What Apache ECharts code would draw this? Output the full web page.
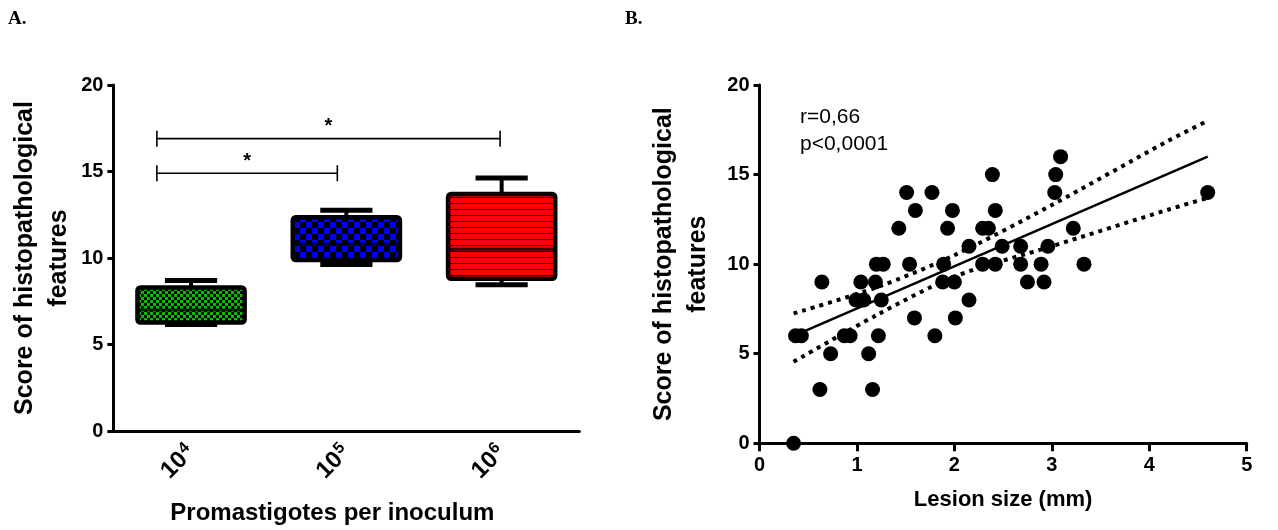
<!DOCTYPE html>
<html><head><meta charset="utf-8">
<script src="https://cdn.jsdelivr.net/npm/echarts@6/dist/echarts.min.js"></script>
<style>html,body{margin:0;padding:0;background:#fff}#c{width:1278px;height:530px}</style>
</head><body><div id="c"></div>
<script>
// ---------- Panel A data ----------
const groupNames = ['10^4', '10^5', '10^6'];
const groupExponents = ['4', '5', '6'];
const boxMin = [6.15, 9.62, 8.46];
const boxQ1 = [6.27, 9.88, 8.8];
const boxMedian = [7.0, 10.8, 10.5];
const boxQ3 = [8.3, 12.36, 13.7];
const boxMax = [8.7, 12.76, 14.62];
const bracketFrom = [0, 0];
const bracketTo = [1, 2];
const bracketLevel = [14.9, 16.9];
const bracketMark = ['*', '*'];

// ---------- Panel B data ----------
const lesionSize = [0.35, 0.37, 0.43, 0.64, 0.62, 0.73, 0.87, 0.93, 1.04, 0.99, 1.07, 1.12, 1.16, 1.19, 1.20, 1.27, 1.22, 1.25,
  1.43, 1.51, 1.60, 1.54, 1.59, 1.77, 1.80, 1.89, 1.88, 2.00, 1.93, 1.98, 2.01, 2.15, 2.15, 2.29, 2.29, 2.35, 2.39, 2.42, 2.42,
  2.49, 2.68, 2.68, 2.89, 2.75, 2.92, 2.96, 3.03, 3.04, 3.09, 3.22, 3.33, 4.60];
const histoScore = [0, 6, 6, 9, 3, 5, 6, 6, 9, 8, 8, 5, 3, 9, 10, 10, 6, 8,
  12, 14, 13, 10, 7, 14, 6, 10, 9, 9, 12, 13, 7, 8, 11, 10, 12, 12, 15, 13, 10,
  11, 11, 10, 10, 9, 9, 11, 14, 15, 16, 12, 10, 14];
const fitX = [0.35, 4.6];
const fitY = [6.0, 16.0];
const bandX = [0.35, 1.2, 2.0, 3.0, 4.2, 4.6];
const bandUpper = [7.25, 8.7, 10.5, 13.3, 16.9, 18.0];
const bandLower = [4.55, 7.15, 9.3, 11.0, 13.05, 13.7];
const statText = ['r=0,66', 'p<0,0001'];

// ---------- patterns ----------
function makePattern(w, h, draw) {
  const c = document.createElement('canvas');
  c.width = w; c.height = h;
  draw(c.getContext('2d'));
  return { image: c, repeat: 'repeat' };
}
const patterns = [
  makePattern(6, 6, g => { g.fillStyle = '#000'; g.fillRect(0,0,6,6); g.fillStyle = '#00c000'; g.fillRect(0,0,3,3); g.fillRect(3,3,3,3); }),
  makePattern(12, 12, g => { g.fillStyle = '#000'; g.fillRect(0,0,12,12); g.fillStyle = '#0000ff'; g.fillRect(0,0,6,6); g.fillRect(6,6,6,6); }),
  makePattern(4, 6, g => { g.fillStyle = '#ff0000'; g.fillRect(0,0,4,6); g.fillStyle = '#000'; g.fillRect(0,5,4,1); })
];

const FONT = 'Liberation Sans';
const boxData = groupNames.map((_, i) => [i, boxMin[i], boxQ1[i], boxMedian[i], boxQ3[i], boxMax[i]]);
const bracketData = bracketFrom.map((f, i) => [f, bracketTo[i], bracketLevel[i]]);

const chart = echarts.init(document.getElementById('c'), null, { renderer: 'canvas' });

const axisTextA = { color: '#000', fontFamily: FONT, fontWeight: 'bold', fontSize: 20 };
const yName = { ...axisTextA, fontSize: 25, lineHeight: 34 };

chart.setOption({
  animation: false,
  backgroundColor: '#fff',
  grid: [
    { left: 113.4, right: 698.7, top: 85, bottom: 98.3 },
    { left: 759.5, right: 31.3, top: 85, bottom: 86.7 }
  ],
  xAxis: [
    {
      type: 'category', gridIndex: 0, data: groupNames, boundaryGap: true,
      axisLine: { lineStyle: { color: '#000', width: 3 } },
      axisTick: { alignWithLabel: true, length: 8, lineStyle: { width: 3, color: '#000' } },
      axisLabel: {
        rotate: 45, margin: 18, ...axisTextA, fontSize: 24,
        formatter: (v, idx) => '10{s|' + groupExponents[idx] + '}',
        rich: { s: { fontSize: 16, fontWeight: 'bold', fontFamily: FONT, color: '#000', verticalAlign: 'top', padding: [0, 0, 11, 1] } }
      },
      name: 'Promastigotes per inoculum', nameLocation: 'middle', nameGap: 70,
      nameTextStyle: { ...axisTextA, fontSize: 24, padding: [0, 28, 0, 0] }
    },
    {
      type: 'value', gridIndex: 1, min: 0, max: 5, interval: 1,
      axisLine: { onZero: false, lineStyle: { color: '#000', width: 3 } },
      axisTick: { length: 8, lineStyle: { width: 3, color: '#000' } },
      splitLine: { show: false },
      axisLabel: { ...axisTextA, margin: 12 },
      name: 'Lesion size (mm)', nameLocation: 'middle', nameGap: 46,
      nameTextStyle: { ...axisTextA, fontSize: 22 }
    }
  ],
  yAxis: [
    {
      type: 'value', gridIndex: 0, min: 0, max: 20, interval: 5,
      axisLine: { show: true, lineStyle: { color: '#000', width: 3 } },
      axisTick: { show: true, length: 6, lineStyle: { width: 3, color: '#000' } },
      splitLine: { show: false },
      axisLabel: { ...axisTextA, margin: 10 },
      name: 'Score of histopathological\nfeatures', nameLocation: 'middle', nameGap: 37, nameRotate: 90,
      nameTextStyle: yName
    },
    {
      type: 'value', gridIndex: 1, min: 0, max: 20, interval: 5,
      axisLine: { show: true, onZero: false, lineStyle: { color: '#000', width: 3 } },
      axisTick: { show: true, length: 6, lineStyle: { width: 3, color: '#000' } },
      splitLine: { show: false },
      axisLabel: { ...axisTextA, margin: 10 },
      name: 'Score of histopathological\nfeatures', nameLocation: 'middle', nameGap: 44, nameRotate: 90,
      nameTextStyle: yName
    }
  ],
  graphic: [
    { type: 'text', left: 8, top: 10, style: { text: 'A.', font: 'bold 19px "Liberation Serif"', fill: '#000' } },
    { type: 'text', left: 625, top: 10, style: { text: 'B.', font: 'bold 19px "Liberation Serif"', fill: '#000' } },
    { type: 'text', left: 800, top: 104, style: { text: statText.join('\n'), font: '21px "Liberation Sans"', lineHeight: 27, fill: '#000' } }
  ],
  series: [
    {
      type: 'custom', xAxisIndex: 0, yAxisIndex: 0, data: boxData,
      encode: { x: 0, y: [1, 2, 3, 4, 5] },
      renderItem: (params, api) => {
        const i = api.value(0);
        const band = api.size([1, 0])[0];
        const cx = api.coord([i, 0])[0];
        const y = k => api.coord([i, api.value(k)])[1];
        const yMin = y(1), yQ1 = y(2), yMed = y(3), yQ3 = y(4), yMax = y(5);
        const hw = band * 0.345, cw = band * 0.168;
        const blk = { stroke: '#000', lineWidth: 4 };
        return {
          type: 'group', children: [
            { type: 'line', shape: { x1: cx, y1: yMax, x2: cx, y2: yQ3 }, style: blk },
            { type: 'line', shape: { x1: cx, y1: yQ1, x2: cx, y2: yMin }, style: blk },
            { type: 'line', shape: { x1: cx - cw, y1: yMax, x2: cx + cw, y2: yMax }, style: { stroke: '#000', lineWidth: 5 } },
            { type: 'line', shape: { x1: cx - cw, y1: yMin, x2: cx + cw, y2: yMin }, style: { stroke: '#000', lineWidth: 5 } },
            { type: 'rect', shape: { x: cx - hw, y: yQ3, width: 2 * hw, height: yQ1 - yQ3, r: 3 },
              style: { fill: patterns[params.dataIndex], stroke: '#000', lineWidth: 4.5 } },
            { type: 'line', shape: { x1: cx - hw, y1: yMed, x2: cx + hw, y2: yMed }, style: { stroke: '#000', lineWidth: 3, opacity: 0.75 } }
          ]
        };
      }
    },
    {
      type: 'custom', xAxisIndex: 0, yAxisIndex: 0, data: bracketData,
      encode: { x: [0, 1], y: 2 },
      renderItem: (params, api) => {
        const band = api.size([1, 0])[0];
        const from = api.value(0), to = api.value(1), lvl = api.value(2);
        const p1 = api.coord([from, lvl]);
        const p2 = api.coord([to, lvl]);
        const x1 = p1[0] - band * 0.22;
        const x2 = p2[0] - (to === 1 ? 0.058 : 0.01) * band;
        const yy = p1[1];
        const st = { stroke: '#000', lineWidth: 1.6 };
        return {
          type: 'group', children: [
            { type: 'line', shape: { x1: x1, y1: yy, x2: x2, y2: yy }, style: st },
            { type: 'line', shape: { x1: x1, y1: yy - 8, x2: x1, y2: yy + 8 }, style: st },
            { type: 'line', shape: { x1: x2, y1: yy - 8, x2: x2, y2: yy + 8 }, style: st },
            { type: 'text', style: { text: bracketMark[params.dataIndex], x: (x1 + x2) / 2, y: yy - 2, align: 'center', verticalAlign: 'bottom', font: 'bold 20px "Liberation Sans"', fill: '#000' } }
          ]
        };
      }
    },
    {
      type: 'scatter', xAxisIndex: 1, yAxisIndex: 1, symbol: 'circle', symbolSize: 15,
      itemStyle: { color: '#000', opacity: 1 },
      data: lesionSize.map((x, i) => [x, histoScore[i]]), z: 3
    },
    {
      type: 'line', xAxisIndex: 1, yAxisIndex: 1, symbol: 'none',
      lineStyle: { color: '#000', width: 2.5 },
      data: fitX.map((x, i) => [x, fitY[i]]), z: 4
    },
    {
      type: 'line', xAxisIndex: 1, yAxisIndex: 1, symbol: 'none', smooth: 0.3,
      lineStyle: { color: '#000', width: 4, type: [4, 5] },
      data: bandX.map((x, i) => [x, bandUpper[i]]), z: 4
    },
    {
      type: 'line', xAxisIndex: 1, yAxisIndex: 1, symbol: 'none', smooth: 0.3,
      lineStyle: { color: '#000', width: 4, type: [4, 5] },
      data: bandX.map((x, i) => [x, bandLower[i]]), z: 4
    }
  ]
});
</script>
</body></html>
